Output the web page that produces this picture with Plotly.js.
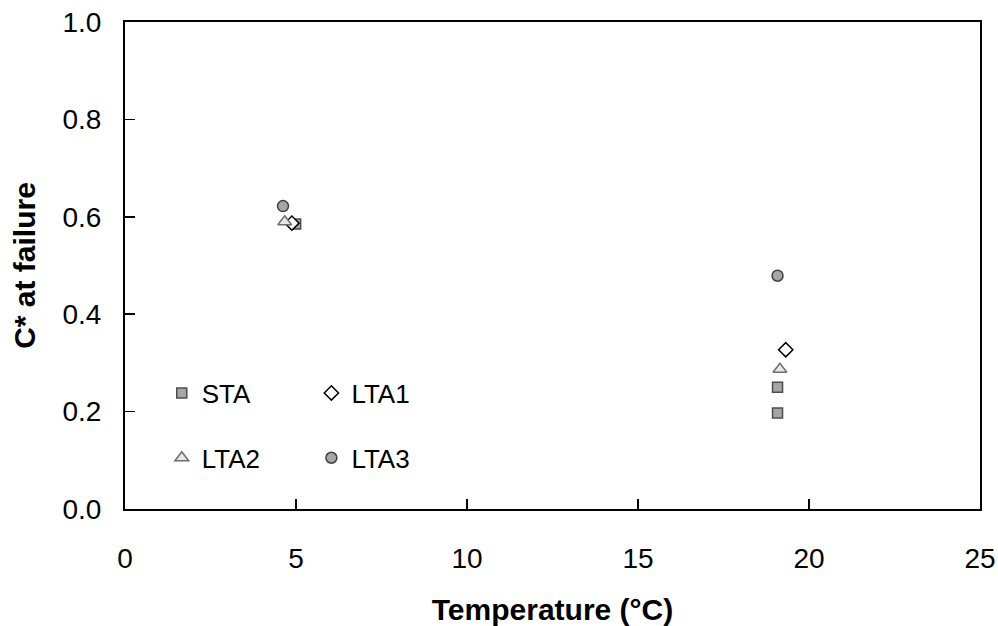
<!DOCTYPE html>
<html>
<head>
<meta charset="utf-8">
<script src="https://cdn.plot.ly/plotly-3.0.1.min.js"></script>
<style>
  html, body { margin: 0; padding: 0; background: #fff; }
  #chart { width: 998px; height: 626px; }
</style>
</head>
<body>
<div id="chart"></div>
<script>
// Failure C* versus test temperature for each ageing condition
const staTemp  = [4.99, 19.08, 19.08];
const staC     = [0.585, 0.25, 0.197];
const lta1Temp = [4.88, 19.32];
const lta1C    = [0.587, 0.327];
const lta2Temp = [4.67, 19.15];
const lta2C    = [0.59, 0.287];
const lta3Temp = [4.62, 19.08];
const lta3C    = [0.622, 0.479];

const seriesNames = ['STA', 'LTA1', 'LTA2', 'LTA3'];
const xTicks = [0, 5, 10, 15, 20, 25];
const yTicks = [0.0, 0.2, 0.4, 0.6, 0.8, 1.0];

const FONT = 'Arial, "Liberation Sans", sans-serif';

const traces = [
  {
    name: seriesNames[0], x: staTemp, y: staC, type: 'scatter', mode: 'markers',
    legend: 'legend',
    marker: { symbol: 'square', size: 10, color: '#a6a6a6', line: { color: '#4d4d4d', width: 1.5 } }
  },
  {
    name: seriesNames[1], x: lta1Temp, y: lta1C, type: 'scatter', mode: 'markers',
    legend: 'legend2',
    marker: { symbol: 'diamond', size: 11, color: '#ffffff', line: { color: '#000000', width: 1.5 } }
  },
  {
    name: seriesNames[2], x: lta2Temp, y: lta2C, type: 'scatter', mode: 'markers',
    legend: 'legend3',
    marker: { symbol: 'triangle-up', size: 12, color: '#e6e6e6', line: { color: '#6e6e6e', width: 1.5 } }
  },
  {
    name: seriesNames[3], x: lta3Temp, y: lta3C, type: 'scatter', mode: 'markers',
    legend: 'legend4',
    marker: { symbol: 'circle', size: 11, color: '#a6a6a6', line: { color: '#404040', width: 1.5 } }
  }
];

function legendAt(x, y) {
  return {
    x: x, y: y, xanchor: 'left', yanchor: 'middle',
    bgcolor: 'rgba(0,0,0,0)', borderwidth: 0,
    font: { family: FONT, size: 26, color: '#000' },
    itemclick: false, itemdoubleclick: false
  };
}

const layout = {
  width: 998, height: 626,
  margin: { l: 125, r: 18, t: 22, b: 117 },
  paper_bgcolor: '#fff', plot_bgcolor: '#fff',
  font: { family: FONT, size: 28, color: '#000' },
  showlegend: true,
  legend: legendAt(0.043, 0.238),
  legend2: legendAt(0.218, 0.238),
  legend3: legendAt(0.043, 0.105),
  legend4: legendAt(0.218, 0.105),
  xaxis: {
    range: [0, 25], tickvals: xTicks, ticktext: xTicks.map(String),
    ticks: 'inside', ticklen: 10, tickwidth: 1.5, tickcolor: '#000',
    showline: true, linecolor: '#000', linewidth: 2, mirror: true,
    showgrid: false, zeroline: false,
    tickfont: { family: FONT, size: 28 },
    ticklabelstandoff: 23,
    title: { text: '<b>Temperature (°C)</b>', font: { family: FONT, size: 30 }, standoff: 28 },
    automargin: false
  },
  yaxis: {
    range: [0, 1], tickvals: yTicks, ticktext: yTicks.map(v => v.toFixed(1)),
    ticks: 'inside', ticklen: 10, tickwidth: 1.5, tickcolor: '#000',
    showline: true, linecolor: '#000', linewidth: 2, mirror: true,
    showgrid: false, zeroline: false,
    tickfont: { family: FONT, size: 28 },
    ticklabelstandoff: 16,
    title: { text: '<b>C* at failure</b>', font: { family: FONT, size: 30 }, standoff: 18 },
    automargin: false
  }
};

Plotly.newPlot('chart', traces, layout, { staticPlot: true, displayModeBar: false });
</script>
</body>
</html>
